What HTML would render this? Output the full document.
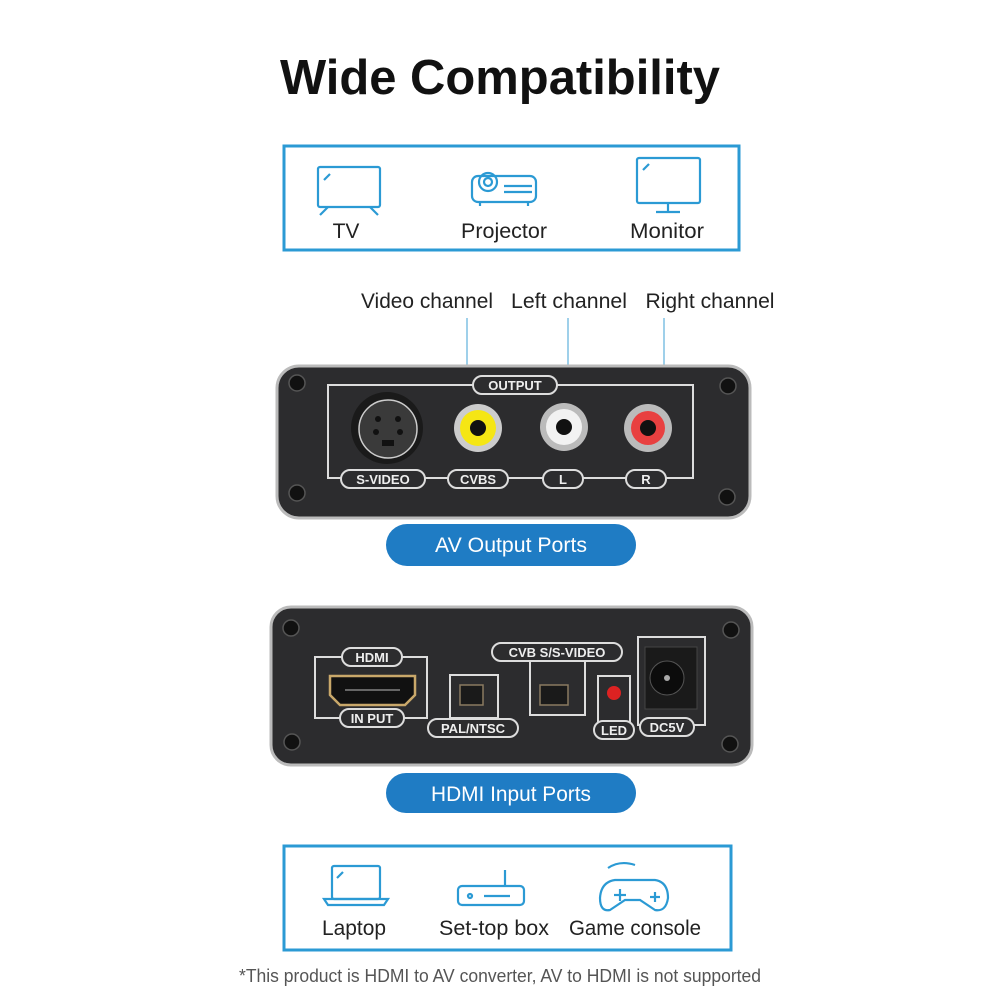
<!DOCTYPE html>
<html><head><meta charset="utf-8"><style>
html,body{margin:0;padding:0;background:#fff;}
svg{display:block;}
text{font-family:"Liberation Sans",sans-serif;}
</style></head><body>
<svg width="1000" height="1000" viewBox="0 0 1000 1000" xmlns="http://www.w3.org/2000/svg">
<rect width="1000" height="1000" fill="#fff"/>
<text x="500" y="94" text-anchor="middle" font-size="49" font-weight="bold" fill="#111" textLength="440" lengthAdjust="spacingAndGlyphs">Wide Compatibility</text>

<!-- top box -->
<rect x="284" y="146" width="455" height="104" fill="none" stroke="#2b9ad4" stroke-width="3"/>
<g fill="none" stroke="#2b9ad4" stroke-width="2.2">
<rect x="318" y="167" width="62" height="40" rx="2"/>
<line x1="328" y1="207" x2="320" y2="215"/><line x1="370" y1="207" x2="378" y2="215"/>
<line x1="324" y1="180" x2="330" y2="174"/>
<rect x="472" y="176" width="64" height="26" rx="6"/>
<circle cx="488" cy="182" r="9"/><circle cx="488" cy="182" r="4"/>
<line x1="504" y1="186" x2="532" y2="186"/><line x1="504" y1="192" x2="532" y2="192"/>
<line x1="480" y1="202" x2="480" y2="206"/><line x1="528" y1="202" x2="528" y2="206"/>
<rect x="637" y="158" width="63" height="45" rx="2"/>
<line x1="668" y1="203" x2="668" y2="212"/><line x1="656" y1="212" x2="680" y2="212"/>
<line x1="643" y1="170" x2="649" y2="164"/>
</g>
<g font-size="21" fill="#222" text-anchor="middle">
<text x="346" y="238">TV</text><text x="504" y="238" textLength="86" lengthAdjust="spacingAndGlyphs">Projector</text><text x="667" y="238" textLength="74" lengthAdjust="spacingAndGlyphs">Monitor</text>
<text x="427" y="308" textLength="132" lengthAdjust="spacingAndGlyphs">Video channel</text><text x="569" y="308" textLength="116" lengthAdjust="spacingAndGlyphs">Left channel</text><text x="710" y="308" textLength="129" lengthAdjust="spacingAndGlyphs">Right channel</text>
</g>
<g stroke="#9fd0ea" stroke-width="2"><line x1="467" y1="318" x2="467" y2="366"/><line x1="568" y1="318" x2="568" y2="366"/><line x1="664" y1="318" x2="664" y2="366"/></g>

<!-- AV device -->
<rect x="277" y="366" width="473" height="152" rx="22" fill="#2c2c2e" stroke="#bbb" stroke-width="3"/>
<g fill="none" stroke="#ddd" stroke-width="2">
<rect x="328" y="385" width="365" height="93"/>
</g>
<g stroke="#ddd" stroke-width="2" fill="#2c2c2e">
<rect x="473" y="376" width="84" height="18" rx="9"/>
<rect x="341" y="470" width="84" height="18" rx="9"/>
<rect x="448" y="470" width="60" height="18" rx="9"/>
<rect x="543" y="470" width="40" height="18" rx="9"/>
<rect x="626" y="470" width="40" height="18" rx="9"/>
</g>
<g font-size="13" font-weight="bold" fill="#eee" text-anchor="middle">
<text x="515" y="390">OUTPUT</text><text x="383" y="484">S-VIDEO</text><text x="478" y="484">CVBS</text><text x="563" y="484">L</text><text x="646" y="484">R</text>
</g>
<circle cx="387" cy="428" r="36" fill="#1a1a1a"/><circle cx="388" cy="429" r="29" fill="#3a3a3a" stroke="#ccc" stroke-width="1.5"/>
<g fill="#111"><circle cx="378" cy="419" r="3"/><circle cx="398" cy="419" r="3"/><circle cx="376" cy="432" r="3"/><circle cx="400" cy="432" r="3"/><rect x="382" y="440" width="12" height="6"/></g>
<circle cx="478" cy="428" r="24" fill="#ccc"/><circle cx="478" cy="428" r="18" fill="#f5e614"/><circle cx="478" cy="428" r="8" fill="#111"/>
<circle cx="564" cy="427" r="24" fill="#bbb"/><circle cx="564" cy="427" r="18" fill="#f2f2f2"/><circle cx="564" cy="427" r="8" fill="#111"/>
<circle cx="648" cy="428" r="24" fill="#bbb"/><circle cx="648" cy="428" r="17" fill="#e84040"/><circle cx="648" cy="428" r="8" fill="#111"/>
<g fill="#111" stroke="#555" stroke-width="1.5"><circle cx="297" cy="383" r="8"/><circle cx="728" cy="386" r="8"/><circle cx="297" cy="493" r="8"/><circle cx="727" cy="497" r="8"/></g>

<rect x="386" y="524" width="250" height="42" rx="21" fill="#1f7cc4"/>
<text x="511" y="552" text-anchor="middle" font-size="21" fill="#fff" textLength="152" lengthAdjust="spacingAndGlyphs">AV Output Ports</text>

<!-- HDMI device -->
<rect x="271" y="607" width="481" height="158" rx="20" fill="#2c2c2e" stroke="#bbb" stroke-width="3"/>
<g fill="none" stroke="#ddd" stroke-width="2">
<rect x="315" y="657" width="112" height="61"/>
<rect x="450" y="675" width="48" height="43"/>
<rect x="530" y="652" width="55" height="63"/>
<rect x="598" y="676" width="32" height="52"/>
<rect x="638" y="637" width="67" height="88"/>
</g>
<g stroke="#ddd" stroke-width="2" fill="#2c2c2e">
<rect x="342" y="648" width="60" height="18" rx="9"/>
<rect x="340" y="709" width="64" height="18" rx="9"/>
<rect x="428" y="719" width="90" height="18" rx="9"/>
<rect x="492" y="643" width="130" height="18" rx="9"/>
<rect x="594" y="721" width="40" height="18" rx="9"/>
<rect x="640" y="718" width="54" height="18" rx="9"/>
</g>
<g font-size="13" font-weight="bold" fill="#eee" text-anchor="middle">
<text x="372" y="662">HDMI</text><text x="372" y="723">IN PUT</text><text x="473" y="733">PAL/NTSC</text><text x="557" y="657">CVB S/S-VIDEO</text><text x="614" y="735">LED</text><text x="667" y="732">DC5V</text>
</g>
<path d="M330 676 H415 V695 L405 705 H340 L330 695 Z" fill="#111" stroke="#c9a86a" stroke-width="2.5"/>
<line x1="345" y1="690" x2="400" y2="690" stroke="#666" stroke-width="2"/>
<rect x="460" y="685" width="23" height="20" fill="#1a1a1a" stroke="#8a7a60" stroke-width="1.5"/>
<rect x="540" y="685" width="28" height="20" fill="#1a1a1a" stroke="#8a7a60" stroke-width="1.5"/>
<circle cx="614" cy="693" r="7" fill="#d22"/>
<rect x="645" y="647" width="52" height="62" fill="#1a1a1a" stroke="#444"/>
<circle cx="667" cy="678" r="17" fill="#0c0c0c" stroke="#555"/><circle cx="667" cy="678" r="3" fill="#aaa"/>
<g fill="#111" stroke="#555" stroke-width="1.5"><circle cx="291" cy="628" r="8"/><circle cx="731" cy="630" r="8"/><circle cx="292" cy="742" r="8"/><circle cx="730" cy="744" r="8"/></g>

<rect x="386" y="773" width="250" height="40" rx="20" fill="#1f7cc4"/>
<text x="511" y="801" text-anchor="middle" font-size="21" fill="#fff" textLength="160" lengthAdjust="spacingAndGlyphs">HDMI Input Ports</text>

<!-- bottom box -->
<rect x="284" y="846" width="447" height="104" fill="none" stroke="#2b9ad4" stroke-width="3"/>
<g fill="none" stroke="#2b9ad4" stroke-width="2.2">
<rect x="332" y="866" width="48" height="33" rx="2"/>
<path d="M324 899 H388 L384 905 H328 Z"/>
<line x1="337" y1="878" x2="343" y2="872"/>
<rect x="458" y="886" width="66" height="19" rx="4"/>
<circle cx="470" cy="896" r="2"/><line x1="484" y1="896" x2="510" y2="896"/>
<line x1="505" y1="886" x2="505" y2="870"/>
<path d="M608 868 Q620 860 635 865"/>
<path d="M615 880 H655 Q668 882 668 898 Q666 912 655 910 L640 900 H625 L610 910 Q600 912 600 898 Q601 882 615 880 Z"/>
<line x1="614" y1="895" x2="626" y2="895"/><line x1="620" y1="889" x2="620" y2="901"/>
<line x1="650" y1="897" x2="660" y2="897"/><line x1="655" y1="892" x2="655" y2="902"/>
</g>
<g font-size="21" fill="#222" text-anchor="middle">
<text x="354" y="935" textLength="64" lengthAdjust="spacingAndGlyphs">Laptop</text><text x="494" y="935" textLength="110" lengthAdjust="spacingAndGlyphs">Set-top box</text><text x="635" y="935" textLength="132" lengthAdjust="spacingAndGlyphs">Game console</text>
</g>
<text x="500" y="982" text-anchor="middle" font-size="18" fill="#555" textLength="522" lengthAdjust="spacingAndGlyphs">*This product is HDMI to AV converter, AV to HDMI is not supported</text>
</svg>
</body></html>
